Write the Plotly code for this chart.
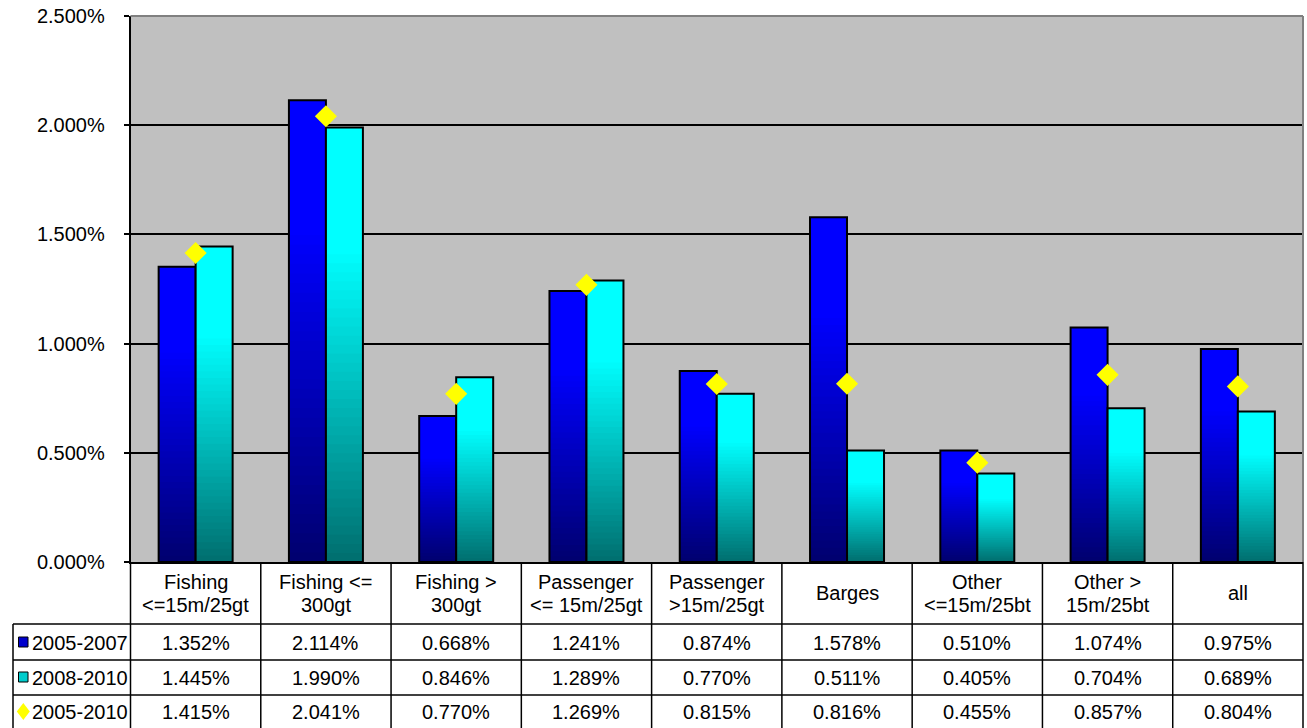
import plotly.graph_objects as go

# ---------------- data ----------------
categories = ["Fishing<br><=15m/25gt", "Fishing <=<br>300gt", "Fishing ><br>300gt",
              "Passenger<br><= 15m/25gt", "Passenger<br>>15m/25gt", "Barges",
              "Other<br><=15m/25bt", "Other ><br>15m/25bt", "all"]
series_names = ["2005-2007", "2008-2010", "2005-2010"]
v_2005_2007 = [1.352, 2.114, 0.668, 1.241, 0.874, 1.578, 0.510, 1.074, 0.975]
v_2008_2010 = [1.445, 1.990, 0.846, 1.289, 0.770, 0.511, 0.405, 0.704, 0.689]
v_2005_2010 = [1.415, 2.041, 0.770, 1.269, 0.815, 0.816, 0.455, 0.857, 0.804]
y_ticks = [0.0, 0.005, 0.010, 0.015, 0.020, 0.025]

# ---------------- geometry ----------------
W, H = 1307, 728
PX0, PX1, PY0, PY1 = 130.5, 1303, 16, 562     # plot area in pixels


def px(x):
    return x / W


def py(y):
    return 1 - y / H


FONT = "Liberation Sans, Arial, sans-serif"
FS = 20
cats = [f"c{i}" for i in range(len(categories))]

fig = go.Figure()

# gradient bars built from overlapping slices (each slice reaches the bar top)
N = 48


def grad(dark, bright, f, knee=0.72):
    t = min(f / knee, 1.0)
    return "rgb(%d,%d,%d)" % tuple(round(d + (b - d) * t) for d, b in zip(dark, bright))


bar_specs = [
    ("a", v_2005_2007, (0, 0, 110), (0, 0, 255)),
    ("b", v_2008_2010, (0, 110, 110), (0, 255, 255)),
]
for grp, vals, dark, bright in bar_specs:
    frac = [v / 100 for v in vals]
    for k in range(N):
        fig.add_trace(go.Bar(
            x=cats, y=[f * (N - k) / N for f in frac], base=[f * k / N for f in frac],
            offsetgroup=grp, marker=dict(color=grad(dark, bright, (k + 0.5) / N), line=dict(width=0)),
            showlegend=False, hoverinfo="skip"))
    fig.add_trace(go.Bar(
        x=cats, y=frac, offsetgroup=grp,
        marker=dict(color="rgba(0,0,0,0)", line=dict(color="black", width=2)),
        showlegend=False, hoverinfo="skip"))

fig.add_trace(go.Scatter(
    x=cats, y=[v / 100 for v in v_2005_2010], mode="markers",
    marker=dict(symbol="diamond", size=17, color="#FFFF00", line=dict(width=0)),
    showlegend=False, cliponaxis=False, hoverinfo="skip"))

shapes = []
ann = []


def line(x0, y0, x1, y1, color="black", width=1.5):
    shapes.append(dict(type="line", xref="paper", yref="paper",
                       x0=px(x0), y0=py(y0), x1=px(x1), y1=py(y1),
                       line=dict(color=color, width=width)))


# plot frame (top/right in grey)
line(PX0, PY0, PX1, PY0, color="#808080", width=2)
line(PX1, PY0, PX1, PY1, color="#808080", width=2)

# table grid
ncat = len(categories)
colw = (PX1 - PX0) / ncat
ROW_LINES = [624, 660, 695]
ROW_CENTERS = [643, 678, 712]
TBL_LEFT = 13
for yl in ROW_LINES:
    line(TBL_LEFT, yl, PX1, yl)
line(TBL_LEFT, ROW_LINES[0], TBL_LEFT, H + 2)
for i in range(ncat + 1):
    xb = PX0 + i * colw
    line(xb, PY1, xb, H + 2)

# header (category names) in the axis' own category positions
for i, c in enumerate(categories):
    parts = c.split("<br>")
    ys = [593] if len(parts) == 1 else [582, 605]
    for t, yy in zip(parts, ys):
        ann.append(dict(x=cats[i], xref="x", y=py(yy), yref="paper", text=t.replace("<", "&lt;").replace(">", "&gt;"),
                        showarrow=False, xanchor="center", yanchor="middle",
                        font=dict(family=FONT, size=FS, color="black")))

# table values
for r, vals in enumerate([v_2005_2007, v_2008_2010, v_2005_2010]):
    for i, v in enumerate(vals):
        ann.append(dict(x=cats[i], xref="x", y=py(ROW_CENTERS[r]), yref="paper", text=f"{v:.3f}%",
                        showarrow=False, xanchor="center", yanchor="middle",
                        font=dict(family=FONT, size=FS, color="black")))
    ann.append(dict(x=px(30), xref="paper", y=py(ROW_CENTERS[r]), yref="paper", text=series_names[r],
                    showarrow=False, xanchor="left", yanchor="middle",
                    font=dict(family=FONT, size=FS, color="black")))

# legend keys in the table
key_cy = [642, 677, 711.5]
shapes.append(dict(type="rect", xref="paper", yref="paper", x0=px(18.5), x1=px(28), y0=py(key_cy[0] - 5), y1=py(key_cy[0] + 5),
                   fillcolor="#0000CC", line=dict(color="black", width=1)))
shapes.append(dict(type="rect", xref="paper", yref="paper", x0=px(18.5), x1=px(28), y0=py(key_cy[1] - 5), y1=py(key_cy[1] + 5),
                   fillcolor="#00CCCC", line=dict(color="black", width=1)))
cx, cy = 23.3, key_cy[2]
shapes.append(dict(type="path", xref="paper", yref="paper",
                   path=f"M {px(cx - 6.5)} {py(cy)} L {px(cx)} {py(cy - 8.5)} L {px(cx + 6.5)} {py(cy)} L {px(cx)} {py(cy + 8.5)} Z",
                   fillcolor="#FFFF00", line=dict(width=0)))

fig.update_layout(
    width=W, height=H,
    margin=dict(l=0, r=0, t=0, b=0, pad=0, autoexpand=False),
    paper_bgcolor="white", plot_bgcolor="#C0C0C0",
    barmode="group", bargap=0.432, bargroupgap=0,
    showlegend=False,
    font=dict(family=FONT, size=FS, color="black"),
    xaxis=dict(domain=[px(PX0), px(PX1)], type="category", categoryarray=cats, range=[-0.5, ncat - 0.5],
               showticklabels=False, ticks="", showgrid=False, zeroline=False, automargin=False,
               showline=True, linecolor="black", linewidth=2, fixedrange=True),
    yaxis=dict(domain=[py(PY1), py(PY0)], range=[0, 0.025], tickvals=y_ticks, tickformat=".3%",
               showgrid=True, gridcolor="black", gridwidth=1.6, zeroline=False, automargin=False,
               showline=True, linecolor="black", linewidth=1.5,
               ticks="outside", ticklen=5, tickwidth=1.5, tickcolor="black",
               ticklabelstandoff=15, tickfont=dict(family=FONT, size=FS, color="black"), fixedrange=True),
    shapes=shapes, annotations=ann,
)

fig.write_html("out.html", config={"displayModeBar": False},
               post_script="document.body.style.margin='0';document.body.style.overflow='hidden';")
